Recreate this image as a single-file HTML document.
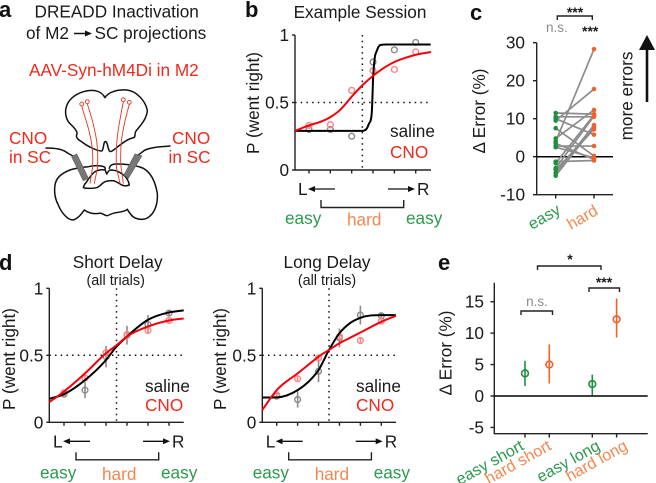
<!DOCTYPE html>
<html lang="en">
<head>
<meta charset="utf-8">
<title>DREADD inactivation figure</title>
<style>
html,body{margin:0;padding:0;background:#fff}
svg{display:block;font-family:"Liberation Sans",sans-serif}
text{fill:#1a1a1a}
.panel{font-weight:bold;font-size:22px;fill:#111}
.title{font-size:17.2px}
.sub{font-size:14.4px}
.lab{font-size:17.2px}
.rot{font-size:16.2px}
.tick{font-size:17.2px;text-anchor:end}
.green{fill:#2a9a4e}
.orange{fill:#f4874f}
.red{fill:#ee2a1c}
.ax{stroke:#222;stroke-width:1.4;fill:none}
.br{stroke:#222;stroke-width:1.4;fill:none}
.dot{stroke:#111;stroke-width:1.5;stroke-dasharray:1.5 4.2;fill:none}
</style>
</head>
<body>
<svg id="fig" width="656" height="483" viewBox="0 0 656 483" xmlns="http://www.w3.org/2000/svg">
<defs>
<marker id="ah" markerWidth="7" markerHeight="6" refX="5" refY="3" orient="auto" markerUnits="userSpaceOnUse"><path d="M0 0L7 3L0 6Z" fill="#111"/></marker>
</defs>

<!-- Panel a -->
<g>
<text class="panel" x="-1" y="17">a</text>
<text class="title" x="116.7" y="17.5" text-anchor="middle">DREADD Inactivation</text>
<text class="title" x="26" y="39">of M2</text>
<line x1="74" y1="33.5" x2="90" y2="33.5" stroke="#111" stroke-width="1.5" marker-end="url(#ah)"/>
<text class="title" x="94.5" y="39">SC projections</text>
<text class="title red" x="29" y="76">AAV-Syn-hM4Di in M2</text>
<text class="title red" x="9" y="144">CNO</text>
<text class="title red" x="9" y="163">in SC</text>
<text class="title red" x="172" y="144">CNO</text>
<text class="title red" x="168.5" y="163">in SC</text>
<g fill="none" stroke-linejoin="round" stroke-linecap="round">
<path stroke="#111" stroke-width="1.5" d="M105 97.7C108 92 117 89.5 126.7 90C136 91 145 100 147.3 110C147.5 118 140 126 136 131C134 134 136 136 134 137.5C128 139 124 142 120 145C116 148 112 152 110 151.5C107.5 150 108 142 105.5 141.5C103 142 104 150 101.7 151C97 151 87 146 82 142C79 140 75 138 77 134C77.5 130 72 126 68.3 121.7C65.5 117 65 113 66 108C68 99 76 94 83.3 91.7C92 89 101 90 105 97.7Z"/>
<path stroke="#111" stroke-width="1.5" d="M109.3 168.3C110 165 113 164 116 164C125 164 136 165 143.3 168.3C150 172 155 180 157.3 193.3C158 203 155 212 150 216C146 220 140 220 135 218C131 216 129 212 127.3 209.3C125 212 118 212 113.3 213.3C110 214 108 216 106.7 215.7C104 215 102 213 100 213.3C96 214 90 214 84.3 210C82 213 79 218 73.3 220C68 220 62 214 58.3 205C55 199 54 192 55 185C56 178 62 173 70 170C76 168 82 167.5 88.3 166.7C94 165.5 100 165.5 103.3 166.5C105 167 105.5 168 105 169.3"/>
<path stroke="#111" stroke-width="1.5" d="M83.3 187.3C84 185 85 183.5 86.7 181.7C89 178 92 174 95 171.7C98 170 102 169.5 105 170C106 171 106 173 106.7 174C107.5 173 108 171 110 170C113 170 116 170.5 118.3 171.7C122 173.5 125 176 126.7 178.3C128 180.5 129 183 129.3 185C127 186 124 186 121.7 185C119 183.5 116 181 113.3 180.7C110 180.5 107 181 105 181.7C102 183 100 186.5 96.7 187.7C93 188.5 90 188.5 86.7 188.3C85 188.3 84 188 83.3 187.3Z"/>
<path stroke="#111" stroke-width="1.5" d="M46 148C55 148 62 149 66 152C69 154 71 155 73 156"/>
<path stroke="#111" stroke-width="1.5" d="M170 146C160 147 152 147 145 150C142 152 140 154 138 155"/>
<path fill="#777" stroke="#666" stroke-width=".8" d="M71.7 156.7L76.7 154L88.3 178.3L83.3 180.7Z"/>
<path fill="#777" stroke="#666" stroke-width=".8" d="M135 154L141.7 156L128.3 178.3L124 175Z"/>
<g stroke="#e8341f" stroke-width=".9">
<path d="M81.7 106C85 118 89 128 91 140C93 150 93 160 92.5 168L90 183.3"/>
<path d="M87.3 104C91 115 94 125 96 137C98 148 98 158 97.5 168L94.3 183.3"/>
<path d="M123.3 102C121 114 118 128 117 140C116 150 116 158 116.5 168L120 183.3"/>
<path d="M129.3 104.5C126 116 123 128 121.5 140C120.5 150 120.5 158 120.8 165L123.3 183.3"/>
<circle cx="81.7" cy="104" r="1.9"/>
<circle cx="87.3" cy="101.7" r="1.9"/>
<circle cx="123.3" cy="99.7" r="1.9"/>
<circle cx="129.3" cy="102.3" r="1.9"/>
</g>
</g>
</g>

<g id="static-labels">
<text class="panel" x="245" y="17">b</text>
<text class="panel" x="470" y="20">c</text>
<text class="panel" x="-1" y="270">d</text>
<text class="panel" x="438" y="270">e</text>
<text class="title" x="360" y="18" text-anchor="middle">Example Session</text>
<text class="title" x="117.7" y="268" text-anchor="middle">Short Delay</text>
<text class="sub" x="115.7" y="285" text-anchor="middle">(all trials)</text>
<text class="title" x="327" y="268" text-anchor="middle">Long Delay</text>
<text class="sub" x="327" y="285" text-anchor="middle">(all trials)</text>
</g>

<g id="chart-b"></g>
<g id="chart-short"></g>
<g id="chart-long"></g>
<g id="chart-c">
<text class="lab" transform="translate(485,111) rotate(-90)" text-anchor="middle">Δ Error (%)</text>
<text class="lab" transform="translate(632.5,96) rotate(-90)" text-anchor="middle">more errors</text>
<line x1="647" y1="102" x2="647" y2="46" stroke="#111" stroke-width="2.6"/>
<path d="M639 50L647 35L655 50Z" fill="#111"/>
<path class="br" d="M557.3 20V16H592.3V20"/>
<text x="575" y="17" font-size="14" font-weight="bold" text-anchor="middle">***</text>
<text x="546" y="32" font-size="13.5" style="fill:#8c8c8c">n.s.</text>
<text x="582" y="36" font-size="14" font-weight="bold">***</text>
<text class="rot green" transform="translate(532,230) rotate(-30)">easy</text>
<text class="rot orange" transform="translate(571,230) rotate(-30)">hard</text>
</g>
<g id="chart-e">
<text class="lab" transform="translate(451.5,353) rotate(-90)" text-anchor="middle">Δ Error (%)</text>
<path class="br" d="M521 315V311H552.5V315"/>
<text x="537" y="306" font-size="13.5" text-anchor="middle" style="fill:#8c8c8c">n.s.</text>
<path class="br" d="M589 292V288H619.5V292"/>
<text x="604" y="287" font-size="14" font-weight="bold" text-anchor="middle">***</text>
<path class="br" d="M537.5 270V266H601V270"/>
<text x="570" y="264" font-size="14" font-weight="bold" text-anchor="middle">*</text>
</g>

<script>
/* Panel b data */
const stimulusLevels = [0, 1, 2, 3, 4, 5];
const pTickValues = [0, 0.5, 1];
const pTickLabels = ['0', '0.5', '1'];
const bSalinePoints = [0.30, 0.30, 0.25, 0.80, 0.89, 0.945];
const bCnoPoints = [0.33, 0.335, 0.59, 0.735, 0.745, 0.875];
const bSalineCurveLevels = [-0.67, 2.5, 2.62, 2.72, 2.8, 2.94, 3.01, 3.08, 3.17, 3.33, 3.6, 5.7];
const bSalineCurveP = [0.29, 0.29, 0.295, 0.31, 0.34, 0.42, 0.70, 0.83, 0.88, 0.925, 0.93, 0.93];
const bCnoCurveLevels = [-0.66, 0.05, 0.52, 0.98, 1.45, 2, 2.55, 3.02, 3.48, 4, 4.5, 5, 5.72];
const bCnoCurveP = [0.29, 0.333, 0.356, 0.39, 0.444, 0.543, 0.635, 0.70, 0.753, 0.80, 0.83, 0.853, 0.874];

/* Panel d, short delay data */
const shortSalinePoints = [0.21, 0.24, 0.49, 0.65, 0.73, 0.815];
const shortSalineErrors = [0.015, 0.06, 0.08, 0.07, 0.07, 0.02];
const shortCnoPoints = [0.22, 0.33, 0.52, 0.655, 0.685, 0.76];
const shortCnoErrors = [0.015, 0.02, 0.03, 0.03, 0.02, 0.015];
const shortCurveLevels = [-0.7, 0, 1, 2, 2.5, 3, 4, 5, 5.7];
const shortSalineCurveP = [0.175, 0.21, 0.315, 0.465, 0.565, 0.64, 0.765, 0.82, 0.835];
const shortCnoCurveP = [0.15, 0.23, 0.365, 0.515, 0.575, 0.64, 0.715, 0.76, 0.775];

/* Panel d, long delay data */
const longSalinePoints = [0.195, 0.17, 0.38, 0.63, 0.80, 0.795];
const longSalineErrors = [0.015, 0.06, 0.08, 0.07, 0.07, 0.02];
const longCnoPoints = [0.205, 0.325, 0.48, 0.64, 0.61, 0.755];
const longCnoErrors = [0.015, 0.015, 0.02, 0.02, 0.015, 0.015];
const longCurveLevels = [-0.7, 0, 1, 1.6, 2, 2.5, 3, 3.5, 4, 5, 5.7];
const longSalineCurveP = [0.185, 0.186, 0.24, 0.315, 0.39, 0.54, 0.665, 0.74, 0.78, 0.80, 0.80];
const longCnoCurveP = [0.09, 0.24, 0.365, 0.44, 0.49, 0.54, 0.59, 0.63, 0.67, 0.75, 0.795];

/* Panel c data */
const cCategories = ['easy', 'hard'];
const cTickValues = [-10, 0, 10, 20, 30];
const cTickLabels = ['-10', '0', '10', '20', '30'];
const cEasyValues = [11.5, 10.5, 10, 9.5, 7.5, 4.8, 4, 3.5, 2.8, 2.5, -1.3, -1.7, -3, -3.5, -4.3, -5];
const cHardValues = [11.2, 10.5, 5.8, 17.8, 0.2, 12.3, 28.3, -0.7, 2.8, -0.3, -1, 11, 10.7, 7.2, 8.3, 7.8];

/* Panel e data */
const eCategories = ['easy short', 'hard short', 'easy long', 'hard long'];
const eSlots = [0, 1, 2.77, 3.77];
const eMeans = [3.6, 5, 1.9, 12.2];
const eLower = [1.6, 2, 0.1, 9.3];
const eUpper = [5.6, 8.2, 3.4, 15.5];
const eTickValues = [-5, 0, 5, 10, 15];
const eTickLabels = ['-5', '0', '5', '10', '15'];

const NS = 'http://www.w3.org/2000/svg';
const GREEN = '#1f8f3f', ORANGE = '#f0622d';

function linear(d0, d1, r0, r1) {
  return function (v) { return r0 + (v - d0) * (r1 - r0) / (d1 - d0); };
}
function make(parent, tag, attrs, content) {
  const el = document.createElementNS(NS, tag);
  for (const k in attrs) el.setAttribute(k, attrs[k]);
  if (content !== undefined) el.textContent = content;
  parent.appendChild(el);
  return el;
}
/* Smooth cubic path through the given points, limited so it never overshoots */
function curvePath(xs, ys) {
  const n = xs.length, dx = [], m = [], s = [];
  for (let i = 0; i < n - 1; i++) {
    dx[i] = xs[i + 1] - xs[i];
    s[i] = (ys[i + 1] - ys[i]) / dx[i];
  }
  m[0] = s[0];
  m[n - 1] = s[n - 2];
  for (let i = 1; i < n - 1; i++) {
    if (s[i - 1] * s[i] <= 0) { m[i] = 0; continue; }
    const avg = (s[i - 1] * dx[i] + s[i] * dx[i - 1]) / (dx[i] + dx[i - 1]);
    const limit = 3 * Math.min(Math.abs(s[i - 1]), Math.abs(s[i]));
    m[i] = Math.sign(avg) * Math.min(Math.abs(avg), limit);
  }
  let d = 'M' + xs[0].toFixed(2) + ' ' + ys[0].toFixed(2);
  for (let i = 0; i < n - 1; i++) {
    const h = dx[i] / 3;
    d += 'C' + (xs[i] + h).toFixed(2) + ' ' + (ys[i] + m[i] * h).toFixed(2) + ' ' +
      (xs[i + 1] - h).toFixed(2) + ' ' + (ys[i + 1] - m[i + 1] * h).toFixed(2) + ' ' +
      xs[i + 1].toFixed(2) + ' ' + ys[i + 1].toFixed(2);
  }
  return d;
}

function drawPsychometric(cfg) {
  const g = document.getElementById(cfg.id);
  const x = linear(0, 5, cfg.x0, cfg.x5);
  const y = linear(0, 1, cfg.yBottom, cfg.yTop);
  const pre = cfg.prefix;
  let el;

  el = make(g, 'line', { x1: x(2.5), x2: x(2.5), y1: cfg.yTop, y2: cfg.yBottom, class: 'dot' });
  
  
  el = make(g, 'line', { x1: cfg.axisLeft, x2: cfg.axisRight, y1: y(0.5), y2: y(0.5), class: 'dot' });
  
  

  el = make(g, 'path', { class: 'ax', d: 'M' + cfg.axisLeft + ' ' + cfg.yTop + 'V' + cfg.yBottom + 'H' + cfg.axisRight });
  
  

  pTickValues.forEach(function (v, i) {
    let t = make(g, 'line', { x1: cfg.axisLeft - 3, x2: cfg.axisLeft, y1: y(v), y2: y(v), class: 'ax' });
    
    
    t = make(g, 'text', { x: cfg.axisLeft - 6, y: y(v) + 6, class: 'tick' }, pTickLabels[i]);
    
    
  });
  stimulusLevels.forEach(function (v) {
    const t = make(g, 'line', { x1: x(v), x2: x(v), y1: cfg.yBottom, y2: cfg.yBottom + 3.5, class: 'ax' });
    
    
  });

  el = make(g, 'text', { class: 'lab', transform: 'translate(' + cfg.yTitleX + ',' + cfg.yTitleY + ') rotate(-90)', 'text-anchor': 'middle' }, 'P (went right)');
  
  

  function series(points, errors, color, label) {
    points.forEach(function (p, i) {
      if (errors) {
        const b = make(g, 'line', { x1: x(stimulusLevels[i]), x2: x(stimulusLevels[i]), y1: y(p - errors[i]), y2: y(p + errors[i]), stroke: color, 'stroke-width': 1.6 });
        
        
      }
      const c = make(g, 'circle', { cx: x(stimulusLevels[i]), cy: y(p), r: 2.9, fill: 'none', stroke: color, 'stroke-width': 1.4 });
      
      
    });
  }
  series(cfg.saline, cfg.salineErr, '#8a8a8a', 'saline');
  series(cfg.cno, cfg.cnoErr, '#f98585', 'cno');

  el = make(g, 'path', { d: curvePath(cfg.salineLevels.map(x), cfg.salineCurve.map(y)), fill: 'none', stroke: '#000', 'stroke-width': 2 });
  
  
  el = make(g, 'path', { d: curvePath(cfg.cnoLevels.map(x), cfg.cnoCurve.map(y)), fill: 'none', stroke: '#f5000a', 'stroke-width': 2 });
  
  

  el = make(g, 'text', { class: 'lab', x: cfg.legendX, y: cfg.legendY }, 'saline');
  
  
  el = make(g, 'text', { class: 'lab red', x: cfg.legendX, y: cfg.legendY + cfg.legendGap }, 'CNO');
  
  

  const u = cfg.x0 - 64;
  const yBase = cfg.yBottom;
  el = make(g, 'text', { class: 'lab', x: u + 53, y: yBase + 25 }, 'L');
  
  
  el = make(g, 'text', { class: 'lab', x: u + 172, y: yBase + 25 }, 'R');
  
  
  el = make(g, 'line', { x1: u + 90, x2: u + 65, y1: yBase + 19, y2: yBase + 19, stroke: '#111', 'stroke-width': 1.3, 'marker-end': 'url(#ah)' });
  
  
  el = make(g, 'line', { x1: u + 143, x2: u + 168, y1: yBase + 19, y2: yBase + 19, stroke: '#111', 'stroke-width': 1.3, 'marker-end': 'url(#ah)' });
  
  
  el = make(g, 'path', { class: 'br', d: 'M' + (u + 76) + ' ' + (yBase + 30) + 'v7.5h' + cfg.hardWidth + 'v-7.5' });
  
  
  el = make(g, 'text', { class: 'lab green', x: u + 40, y: yBase + cfg.easyDrop }, 'easy');
  
  
  el = make(g, 'text', { class: 'lab orange', x: u + 102, y: yBase + cfg.easyDrop + 1.5 }, 'hard');
  
  
  el = make(g, 'text', { class: 'lab green', x: u + 161, y: yBase + cfg.easyDrop }, 'easy');
  
  
}

drawPsychometric({ id: 'chart-b', prefix: 'session', x0: 309, x5: 415.7, yBottom: 170, yTop: 35, axisLeft: 295, axisRight: 431,
  saline: bSalinePoints, cno: bCnoPoints, salineLevels: bSalineCurveLevels, salineCurve: bSalineCurveP,
  cnoLevels: bCnoCurveLevels, cnoCurve: bCnoCurveP, yTitleX: 259, yTitleY: 103, legendX: 390, legendY: 137, legendGap: 21, hardWidth: 82.7, easyDrop: 54 });
drawPsychometric({ id: 'chart-short', prefix: 'short', x0: 64, x5: 169, yBottom: 422.3, yTop: 288.3, axisLeft: 49.3, axisRight: 183.7,
  saline: shortSalinePoints, salineErr: shortSalineErrors, cno: shortCnoPoints, cnoErr: shortCnoErrors,
  salineLevels: shortCurveLevels, salineCurve: shortSalineCurveP, cnoLevels: shortCurveLevels, cnoCurve: shortCnoCurveP,
  yTitleX: 15, yTitleY: 359, legendX: 145, legendY: 392, legendGap: 19, hardWidth: 82.7, easyDrop: 56 });
drawPsychometric({ id: 'chart-long', prefix: 'long', x0: 276.7, x5: 381.3, yBottom: 422.3, yTop: 288.3, axisLeft: 262.3, axisRight: 396,
  saline: longSalinePoints, salineErr: longSalineErrors, cno: longCnoPoints, cnoErr: longCnoErrors,
  salineLevels: longCurveLevels, salineCurve: longSalineCurveP, cnoLevels: longCurveLevels, cnoCurve: longCnoCurveP,
  yTitleX: 226, yTitleY: 359, legendX: 356, legendY: 392, legendGap: 19, hardWidth: 82.7, easyDrop: 56 });

/* Panel c */
(function () {
  const g = document.getElementById('chart-c');
  const y = linear(-10, 30, 194.7, 42.7);
  const x = linear(0, 1, 555.7, 594);
  let el;
  el = make(g, 'path', { class: 'ax', d: 'M536.7 ' + y(30) + 'V' + y(-10) + 'H613' });
  
  
  el = make(g, 'line', { x1: 536.7, x2: 613, y1: y(0), y2: y(0), stroke: '#000', 'stroke-width': 1.5 });
  
  
  cTickValues.forEach(function (v, i) {
    let t = make(g, 'line', { x1: 533, x2: 536.7, y1: y(v), y2: y(v), class: 'ax' });
    
    
    t = make(g, 'text', { x: 525, y: y(v) + 6, class: 'tick' }, cTickLabels[i]);
    
    
  });
  cCategories.forEach(function (c, i) {
    const t = make(g, 'line', { x1: x(i), x2: x(i), y1: 194.7, y2: 198.5, class: 'ax' });
    
    
  });
  cEasyValues.forEach(function (v, i) {
    const l = make(g, 'line', { x1: x(0), x2: x(1), y1: y(v), y2: y(cHardValues[i]), stroke: '#8c8c8c', 'stroke-width': 1.7 });
    
    
  });
  cEasyValues.forEach(function (v) {
    const c = make(g, 'circle', { cx: x(0), cy: y(v), r: 2.3, fill: GREEN });
    
    
  });
  cHardValues.forEach(function (v) {
    const c = make(g, 'circle', { cx: x(1), cy: y(v), r: 2.3, fill: ORANGE });
    
    
  });
})();

/* Panel e */
(function () {
  const g = document.getElementById('chart-e');
  const y = linear(0, 15, 396, 301.7);
  const x = linear(0, 1, 525, 549.3);
  const labelShift = linear(0, 3.77, 0, 12);
  let el;
  el = make(g, 'path', { class: 'ax', d: 'M494.3 282.7V433.7H647.7' });
  
  
  el = make(g, 'line', { x1: 494.3, x2: 647.7, y1: y(0), y2: y(0), stroke: '#000', 'stroke-width': 1.6 });
  
  
  eTickValues.forEach(function (v, i) {
    let t = make(g, 'line', { x1: 490.5, x2: 494.3, y1: y(v), y2: y(v), class: 'ax' });
    
    
    t = make(g, 'text', { x: 484, y: y(v) + 6, class: 'tick' }, eTickLabels[i]);
    
    
  });
  eCategories.forEach(function (c, i) {
    const color = i % 2 === 0 ? GREEN : ORANGE;
    const cx = x(eSlots[i]);
    let m = make(g, 'line', { x1: cx, x2: cx, y1: 433.7, y2: 437.5, class: 'ax' });
    
    
    m = make(g, 'line', { x1: cx, x2: cx, y1: y(eLower[i]), y2: y(eUpper[i]), stroke: color, 'stroke-width': 1.6 });
    
    
    m = make(g, 'circle', { cx: cx, cy: y(eMeans[i]), r: 3.4, fill: 'none', stroke: color, 'stroke-width': 1.6 });
    
    
    m = make(g, 'text', { class: 'rot ' + (i % 2 === 0 ? 'green' : 'orange'), 'text-anchor': 'end', transform: 'translate(' + (cx + labelShift(eSlots[i])) + ',449) rotate(-29)' }, c);
    
    
  });
})();
</script>
</svg>
</body>
</html>
